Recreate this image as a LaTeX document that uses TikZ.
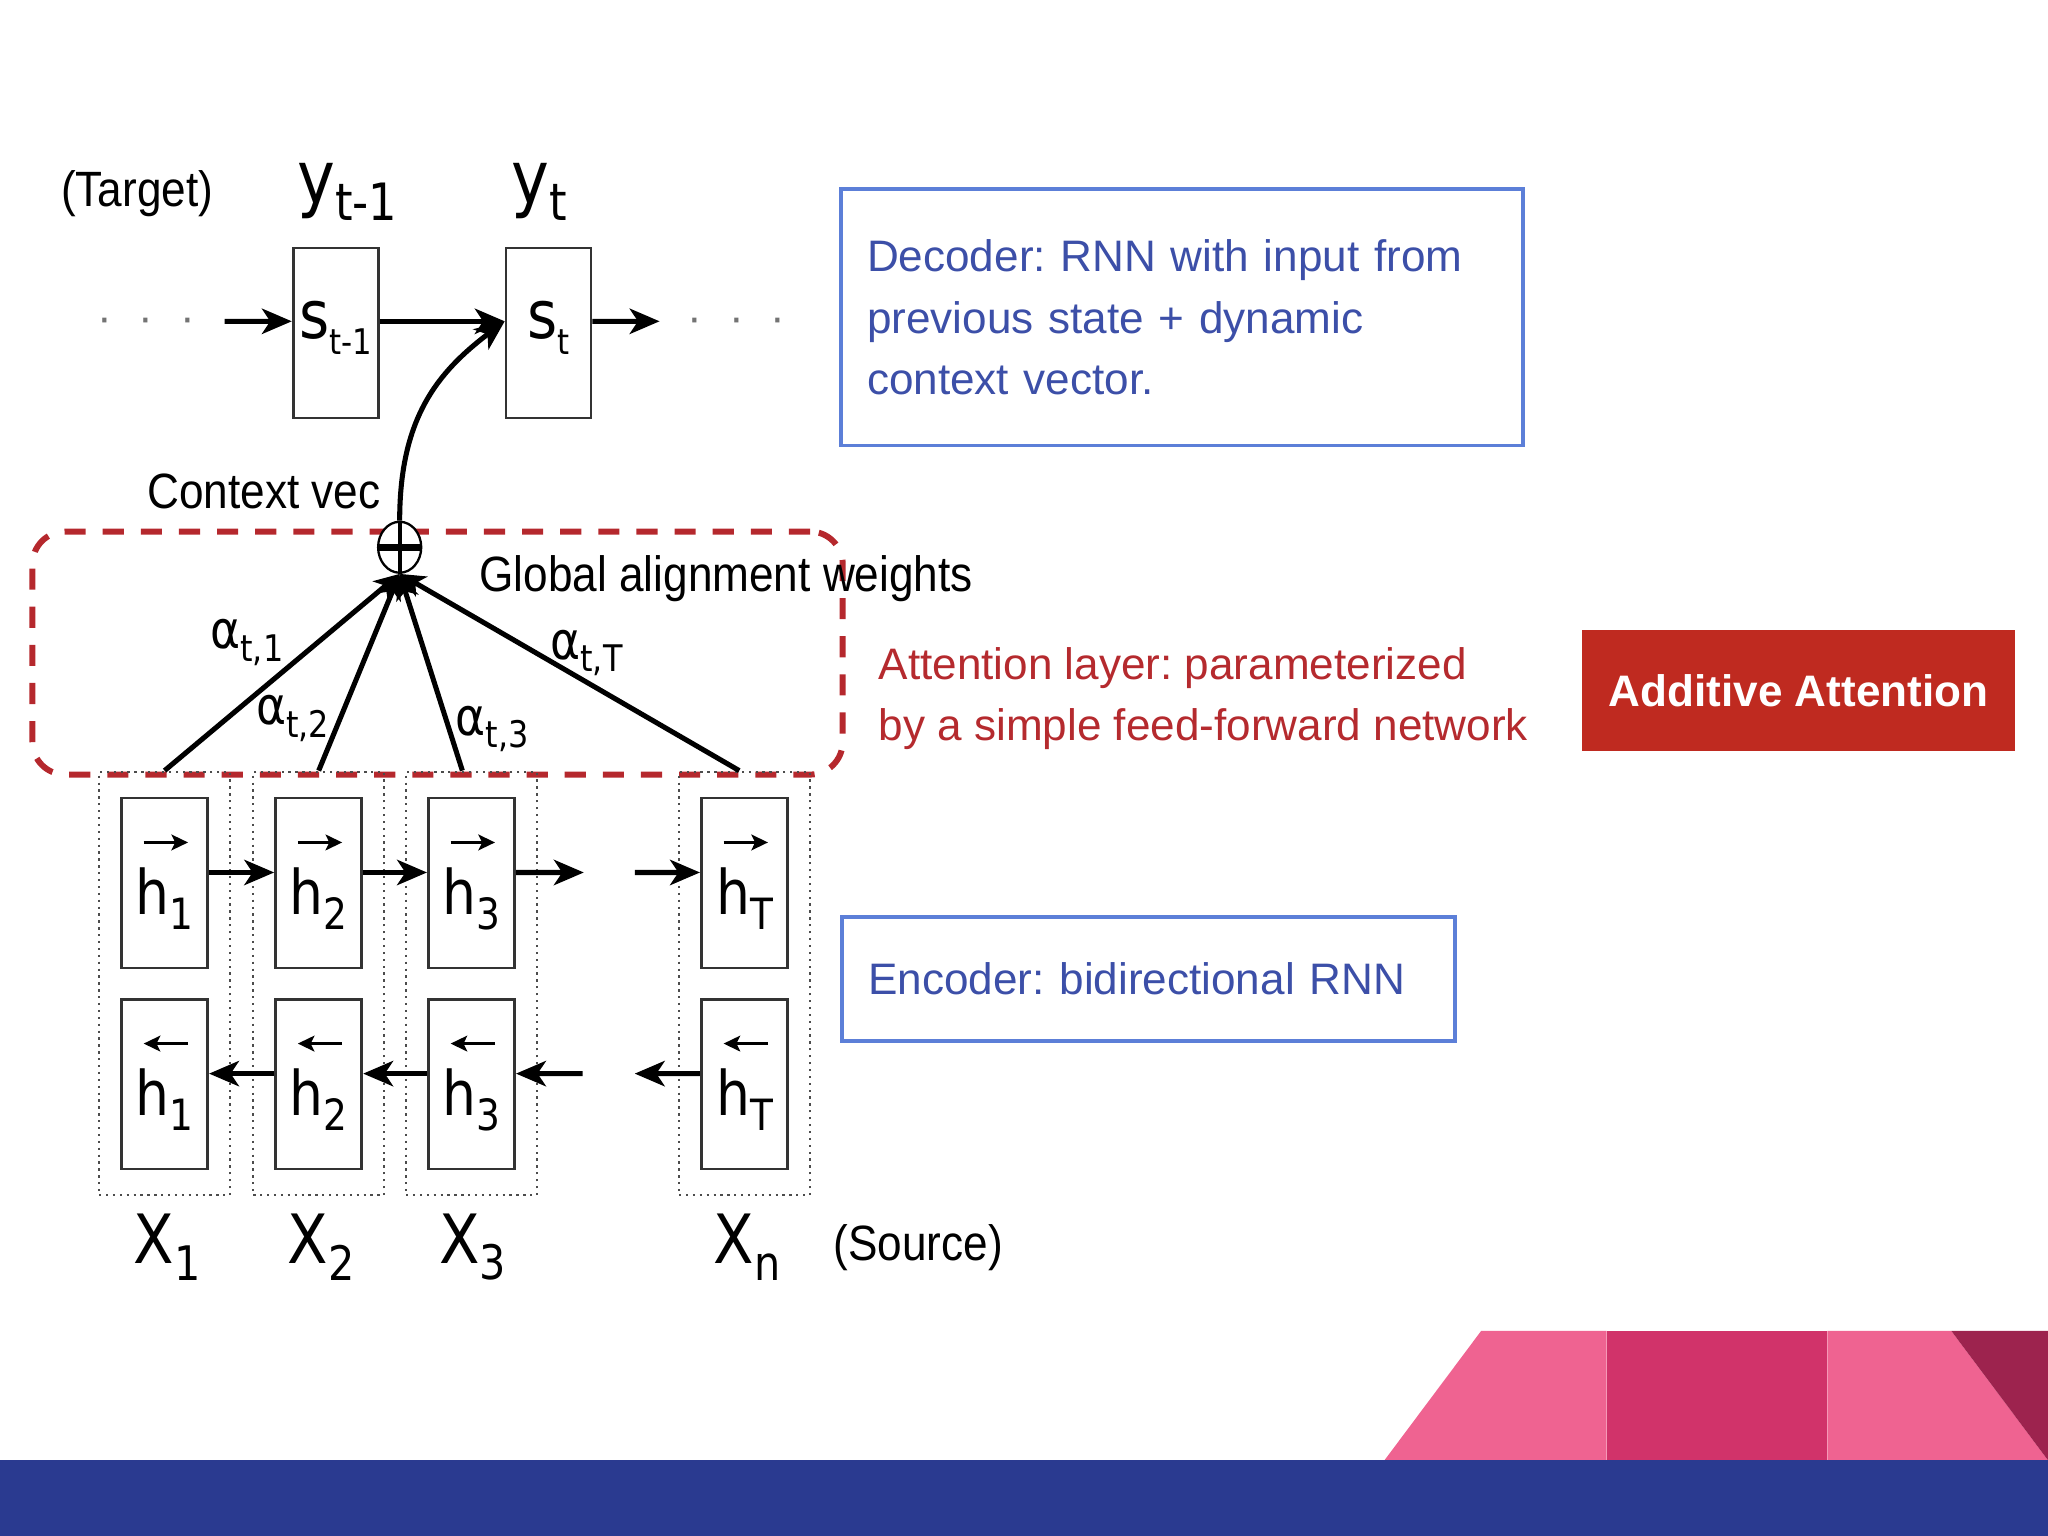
\documentclass[tikz,border=0pt]{standalone}
\usepackage{fontspec}
\usepackage{graphicx}
\setmainfont{Liberation Sans}
\newfontfamily\diagfont{Liberation Sans}[FakeStretch=0.89]
\newfontfamily\dvfont{DejaVu Sans}[FakeStretch=0.87]
\usetikzlibrary{shapes.geometric,arrows.meta,positioning,fit,calc}
\definecolor{decblue}{HTML}{3C4FA8}
\definecolor{boxblue}{HTML}{5C7FD8}
\definecolor{attred}{HTML}{B52A2E}
\definecolor{addred}{HTML}{BF2A20}
\definecolor{dashred}{HTML}{B5282D}
\definecolor{lightpink}{HTML}{EF6391}
\definecolor{darkpink}{HTML}{D1336A}
\definecolor{maroon}{HTML}{9D234E}
\definecolor{navy}{HTML}{2A3A90}
\frenchspacing
% label with a lowered, smaller index
\newcommand{\sublbl}[3][0.7]{#2\raisebox{-0.24em}{\scalebox{#1}{#3}}}

\begin{document}
\begin{tikzpicture}[x=0.01cm,y=-0.01cm,
    state/.style={draw=black!80,line width=0.6pt,minimum width=0.65cm,minimum height=1.3cm,inner sep=0pt,text height=0.2cm,text depth=0.12cm,font=\dvfont\fontsize{14.5}{14.5}\selectfont},
    hid/.style={draw=black!80,line width=0.6pt,minimum width=0.66cm,minimum height=1.3cm,inner sep=0pt,text height=0.55cm,text depth=0.07cm,font=\dvfont\fontsize{13.4}{13.4}\selectfont},
    col/.style={draw=black!70,densely dotted,line width=0.5pt,inner xsep=0.16cm,inner ysep=0.19cm},
    flow/.style={-{Stealth[length=6.5pt,width=5.5pt,inset=1.8pt]},line width=1.1pt},
    weight/.style={-{Stealth[length=5.5pt,width=5pt,inset=1.5pt]},line width=1.1pt},
    dirmark/.style={-{Stealth[length=3.6pt,width=3.4pt,inset=0.8pt]},line width=0.7pt},
    lbl/.style={font=\diagfont\fontsize{10.8}{12}\selectfont},
    sym/.style={font=\dvfont\fontsize{#1}{#1}\selectfont},
    note/.style={draw=boxblue,line width=0.8pt,inner sep=0pt,align=left,font=\fontsize{9.6}{13.4}\selectfont,text=decblue},
    dots/.style={text=black!55,font=\fontsize{9.6}{12}\selectfont}]
  \useasboundingbox (0,0) rectangle (1568,1176);

  % decoder
  \node[lbl] (target) at (105,148) {(Target)};
  \node[sym=16] (yt1) at (266,147) {\sublbl{y}{t-1}};
  \node[sym=16] (yt) at (413,147) {\sublbl{y}{t}};
  \node[state] (st1) at (257,255) {\sublbl[0.53]{s}{t-1}};
  \node[state] (st) at (420,255) {\sublbl[0.53]{s}{t}};
  \node[dots] (ldots) at (112,249) {·\hspace{5.8pt}·\hspace{5.8pt}·};
  \node[dots] (rdots) at (564,249) {·\hspace{5.8pt}·\hspace{5.8pt}·};
  \coordinate (sin) at (172,246);
  \coordinate (sout) at (505,246);
  \draw[flow] (sin) -- ([yshift=0.09cm]st1.west);
  \draw[flow] ([yshift=0.09cm]st1.east) -- ([yshift=0.09cm]st.west);
  \draw[flow] ([yshift=0.09cm]st.east) -- (sout);

  % attention
  \node[draw=dashred,line width=1.3pt,dash pattern=on 4.6pt off 3.7pt,rounded corners=0.25cm,minimum width=6.2cm,minimum height=1.86cm] (attn) at (335,500) {};
  \node[ellipse,draw,line width=0.5pt,minimum width=0.33cm,minimum height=0.39cm,inner sep=0pt,fill=white] (op) at (306,419) {};
  \draw[line width=1.5pt] (op.west) -- (op.east);
  \draw[line width=0.8pt] (op.north) -- (op.south);
  \draw[flow] (op.north) .. controls (306,320) and (335,285) .. ([yshift=0.09cm]st.west);
  \node[lbl] (ctx) at (202,376) {Context vec};
  \node[lbl] (glob) at (556,443) {Global alignment weights};

  % encoder
  \node[hid] (hf1) at (126,676) {\sublbl{h}{1}};
  \node[hid] (hf2) at (244,676) {\sublbl{h}{2}};
  \node[hid] (hf3) at (361,676) {\sublbl{h}{3}};
  \node[hid] (hfT) at (570,676) {\sublbl{h}{T}};
  \node[hid] (hb1) at (126,830) {\sublbl{h}{1}};
  \node[hid] (hb2) at (244,830) {\sublbl{h}{2}};
  \node[hid] (hb3) at (361,830) {\sublbl{h}{3}};
  \node[hid] (hbT) at (570,830) {\sublbl{h}{T}};
  \foreach \h in {hf1,hf2,hf3,hfT}
    \draw[dirmark] ([shift={(-16,-31)}]\h.center) -- ++(34,0);
  \foreach \h in {hb1,hb2,hb3,hbT}
    \draw[dirmark] ([shift={(18,-31)}]\h.center) -- ++(-34,0);
  \node[col,fit=(hf1)(hb1)] (c1) {};
  \node[col,fit=(hf2)(hb2)] (c2) {};
  \node[col,fit=(hf3)(hb3)] (c3) {};
  \node[col,fit=(hfT)(hbT)] (cT) {};
  \coordinate (fo) at (447,668);
  \coordinate (fi) at (486,668);
  \coordinate (bo) at (446,822);
  \coordinate (bi) at (486,822);
  \draw[flow] ([yshift=0.08cm]hf1.east) -- ([yshift=0.08cm]hf2.west);
  \draw[flow] ([yshift=0.08cm]hf2.east) -- ([yshift=0.08cm]hf3.west);
  \draw[flow] ([yshift=0.08cm]hf3.east) -- (fo);
  \draw[flow] (fi) -- ([yshift=0.08cm]hfT.west);
  \draw[flow] ([yshift=0.08cm]hb2.west) -- ([yshift=0.08cm]hb1.east);
  \draw[flow] ([yshift=0.08cm]hb3.west) -- ([yshift=0.08cm]hb2.east);
  \draw[flow] (bo) -- ([yshift=0.08cm]hb3.east);
  \draw[flow] ([yshift=0.08cm]hbT.west) -- (bi);
  \node[sym=14.8] (x1) at (128,955) {\sublbl{X}{1}};
  \node[sym=14.8] (x2) at (246,955) {\sublbl{X}{2}};
  \node[sym=14.8] (x3) at (362,955) {\sublbl{X}{3}};
  \node[sym=14.8] (xn) at (572,955) {\sublbl{X}{n}};
  \node[lbl] (source) at (703,955) {(Source)};

  % weights into the sum
  \draw[weight] (c1.north) -- (op.south);
  \draw[weight] (c2.north) -- (op.south);
  \draw[weight] ([xshift=-0.07cm]c3.north) -- (op.south);
  \draw[weight] ([xshift=-0.04cm]cT.north) -- (op.south);
  \node[sym=11.4] (a1) at (189,492) {\sublbl{α}{t,1}};
  \node[sym=11.4] (a2) at (224,550) {\sublbl{α}{t,2}};
  \node[sym=11.4] (a3) at (377,558) {\sublbl{α}{t,3}};
  \node[sym=11.4] (aT) at (449,500) {\sublbl{α}{t,T}};

  % notes
  \node[note,minimum width=5.22cm,minimum height=1.96cm,text width=4.82cm] (dec) at (905,243) {Decoder: RNN with input from\\previous state + dynamic\\context vector.};
  \node[anchor=west,inner sep=0pt,align=left,text=attred,font=\fontsize{9.6}{13.4}\selectfont] (attnote) at (672,535) {Attention layer: parameterized\\by a simple feed-forward network};
  \node[fill=addred,text=white,font=\bfseries\fontsize{9.6}{12}\selectfont,minimum width=3.32cm,minimum height=0.93cm] (add) at (1377,528.5) {Additive Attention};
  \node[note,minimum width=4.69cm,minimum height=0.95cm,text width=4.29cm] (enc) at (879.5,749.5) {Encoder: bidirectional RNN};

  % footer band
  \fill[lightpink] (1060,1118) -- (1134,1019) -- (1230,1019) -- (1230,1118) -- cycle;
  \fill[darkpink] (1230,1019) rectangle (1399,1118);
  \fill[lightpink] (1399,1019) -- (1494,1019) -- (1568,1118) -- (1399,1118) -- cycle;
  \fill[maroon] (1494,1019) -- (1568,1019) -- (1568,1118) -- cycle;
  \fill[navy] (0,1118) rectangle (1568,1176);
\end{tikzpicture}
\end{document}
